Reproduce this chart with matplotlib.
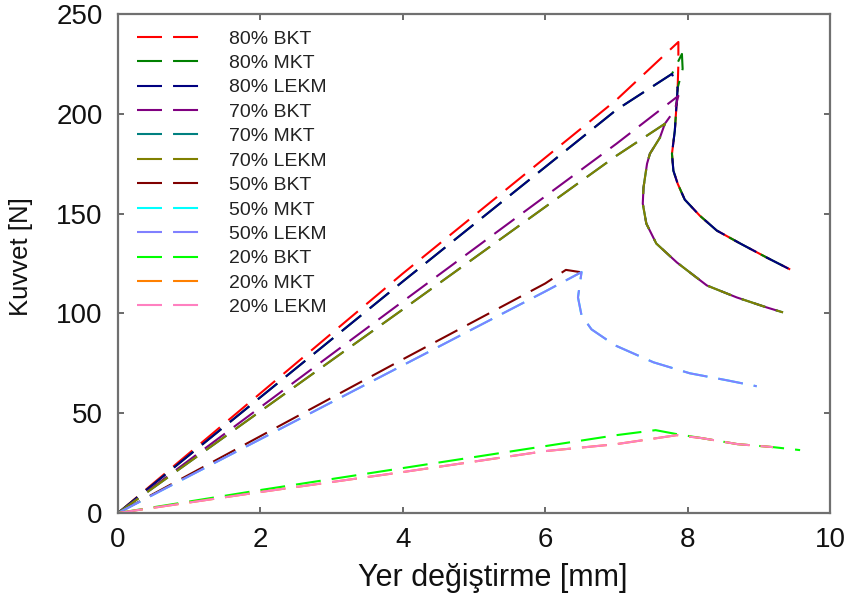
import matplotlib
matplotlib.use("Agg")
import matplotlib.pyplot as plt

plt.rcParams['font.family'] = ['Liberation Sans', 'DejaVu Sans']

labels = ["80% BKT", "80% MKT", "80% LEKM",
          "70% BKT", "70% MKT", "70% LEKM",
          "50% BKT", "50% MKT", "50% LEKM",
          "20% BKT", "20% MKT", "20% LEKM"]
colors = ["#FF0000", "#008000", "#000080",
          "#800080", "#008080", "#808000",
          "#800000", "#00FFFF", "#8080FF",
          "#00FF00", "#FF8000", "#FF80C0"]

# displacement [mm] / force [N] for each specimen
x_80_bkt = [0, 2, 4, 7, 7.87, 7.87, 7.86, 7.82, 7.78, 7.80, 7.86, 7.96, 8.17, 8.41, 8.74, 9.11, 9.44]
y_80_bkt = [0, 60, 120, 207, 236, 225, 213, 191.5, 180, 171.5, 165, 157, 149, 141.5, 135, 128, 122]
x_80_mkt = [0, 2, 4, 7, 7.78, 7.92, 7.93, 7.86, 7.82, 7.78, 7.80, 7.86, 7.96, 8.17, 8.41, 8.74, 9.11, 9.44]
y_80_mkt = [0, 58, 116, 202, 220, 230, 222.5, 213, 191.5, 180, 171.5, 165, 157, 149, 141.5, 135, 128, 122]
x_80_lekm = [0, 2, 4, 7, 7.78, 7.86, 7.82, 7.78, 7.80, 7.86, 7.96, 8.17, 8.41, 8.74, 9.11, 9.44]
y_80_lekm = [0, 58, 116, 202, 220, 213, 191.5, 180, 171.5, 165, 157, 149, 141.5, 135, 128, 122]

x_70_bkt = [0, 2, 4, 7, 7.87, 7.82, 7.68, 7.61, 7.47, 7.43, 7.38, 7.37, 7.42, 7.56, 7.85, 8.27, 8.69, 9.11, 9.34]
y_70_bkt = [0, 53, 106, 185, 209, 202, 195, 188, 180, 175, 163, 155, 145, 135, 125.5, 114, 108, 103, 100.5]
x_70_mkt = [0, 2, 4, 7, 7.68, 7.61, 7.47, 7.43, 7.38, 7.37, 7.42, 7.56, 7.85, 8.27, 8.69, 9.11, 9.34]
y_70_mkt = [0, 51, 102, 179, 195, 188, 180, 175, 163, 155, 145, 135, 125.5, 114, 108, 103, 100.5]
x_70_lekm = list(x_70_mkt)
y_70_lekm = list(y_70_mkt)

x_50_bkt = [0, 2, 4, 6, 6.29, 6.49]
y_50_bkt = [0, 38.5, 77, 115, 121.8, 120.7]
x_50_mkt = [0, 2, 4, 6, 6.51, 6.46, 6.51, 6.65, 6.98, 7.52, 8.03, 8.55, 8.97]
y_50_mkt = [0, 37, 74, 111, 120.7, 108, 99, 92, 84, 75.5, 70, 66.5, 63.5]
x_50_lekm = list(x_50_mkt)
y_50_lekm = list(y_50_mkt)

x_20_bkt = [0, 2, 4, 6, 7.0, 7.55, 7.85, 8.2, 8.7, 9.2, 9.58]
y_20_bkt = [0, 11.5, 22.5, 33.5, 39, 41.5, 39.5, 37.5, 34.5, 33, 31.5]
x_20_mkt = [0, 2, 4, 6, 7.0, 7.85, 8.2, 8.7, 9.2]
y_20_mkt = [0, 10.5, 20.5, 31, 34.5, 39, 37.5, 34.5, 33]
x_20_lekm = list(x_20_mkt)
y_20_lekm = list(y_20_mkt)

series = [(x_80_bkt, y_80_bkt), (x_80_mkt, y_80_mkt), (x_80_lekm, y_80_lekm),
          (x_70_bkt, y_70_bkt), (x_70_mkt, y_70_mkt), (x_70_lekm, y_70_lekm),
          (x_50_bkt, y_50_bkt), (x_50_mkt, y_50_mkt), (x_50_lekm, y_50_lekm),
          (x_20_bkt, y_20_bkt), (x_20_mkt, y_20_mkt), (x_20_lekm, y_20_lekm)]

fig = plt.figure(figsize=(8.48, 5.99), dpi=100)
ax = fig.add_axes([0.1392, 0.1436, 0.8396, 0.833])

for (xs, ys), lab, col in zip(series, labels, colors):
    ax.plot(xs, ys, color=col, lw=1.5, linestyle=(0, (12, 5.3)), label=lab)

ax.set_xlim(0, 10)
ax.set_ylim(0, 250)
ax.set_xticks([0, 2, 4, 6, 8, 10])
ax.set_yticks([0, 50, 100, 150, 200, 250])

for sp in ax.spines.values():
    sp.set_color("#707070")
    sp.set_linewidth(1.6)

ax.tick_params(direction="in", length=4, width=1.2, color="#505050",
               top=True, right=True, labelsize=20, labelcolor="#111111")
ax.tick_params(axis="y", pad=11)
ax.tick_params(axis="x", pad=10)

ax.set_xlabel("Yer değiştirme [mm]", fontsize=22, color="#111111")
ax.xaxis.set_label_coords(0.526, -0.101)
ax.set_ylabel("Kuvvet [N]", fontsize=18.5, color="#111111")
ax.yaxis.set_label_coords(-0.119, 0.514)

leg = ax.legend(loc="upper left", bbox_to_anchor=(0.0267, 0.968), frameon=False,
                fontsize=14, handlelength=3.25, handletextpad=1.5,
                labelspacing=0.35, borderpad=0, borderaxespad=0)
for t in leg.get_texts():
    t.set_color("#222222")

fig.savefig("out.png", dpi=100)
